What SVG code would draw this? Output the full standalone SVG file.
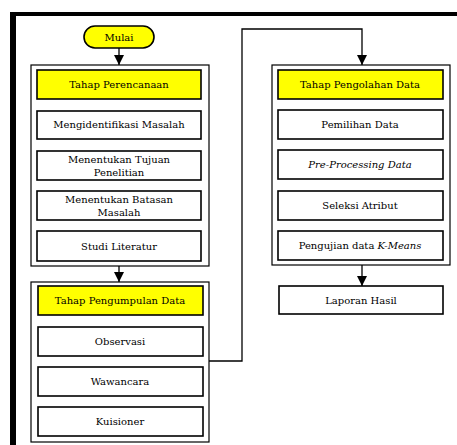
<svg xmlns="http://www.w3.org/2000/svg" width="457" height="445" viewBox="0 0 457 445">
<style>
.box{fill:#fff;stroke:#000;stroke-width:1.6}
.hdr{fill:#ffff00;stroke:#000;stroke-width:1.6}
.grp{fill:#fff;stroke:#000;stroke-width:1.2}
.t{font-family:"DejaVu Serif","Liberation Serif",serif;font-size:10px;text-anchor:middle;fill:#000}
.ln{fill:none;stroke:#000;stroke-width:1.3}
</style>
<defs>
<marker id="ah" markerWidth="8" markerHeight="8" refX="4" refY="6" orient="auto" markerUnits="userSpaceOnUse">
<path d="M0,0 L8,0 L4,7 Z" transform="rotate(-90 4 4) translate(0,0)" fill="#000"/>
</marker>
<marker id="a" viewBox="0 0 10 10" refX="10" refY="5" markerWidth="10" markerHeight="10" orient="auto" markerUnits="userSpaceOnUse">
<path d="M0,0 L10,5 L0,10 Z" fill="#000"/>
</marker>
</defs>
<rect width="457" height="445" fill="#fff"/>
<g id="frame">
<rect x="10" y="12" width="447" height="4" fill="#000"/>
<rect x="10" y="12" width="6" height="433" fill="#000"/>
</g>
<g id="connectors">
<line class="ln" x1="119" y1="48" x2="119" y2="65" marker-end="url(#a)"/>
<line class="ln" x1="119" y1="266" x2="119" y2="282" marker-end="url(#a)"/>
<polyline class="ln" points="209,361 242,361 242,29 362,29 362,65" marker-end="url(#a)"/>
<line class="ln" x1="362" y1="265" x2="362" y2="286" marker-end="url(#a)"/>
</g>
<g id="mulai">
<rect class="hdr" x="84" y="26" width="70" height="22" rx="11"/>
<text class="t" x="119" y="41">Mulai</text>
</g>
<g id="perencanaan">
<rect class="grp" x="31" y="65" width="178" height="201"/>
<rect class="hdr" x="37" y="70" width="164" height="29"/>
<text class="t" x="119" y="88">Tahap Perencanaan</text>
<rect class="box" x="37" y="111" width="164" height="28"/>
<text class="t" x="119" y="128">Mengidentifikasi Masalah</text>
<rect class="box" x="37" y="151" width="164" height="29"/>
<text class="t" x="119" y="163">Menentukan Tujuan</text>
<text class="t" x="119" y="176">Penelitian</text>
<rect class="box" x="37" y="191" width="164" height="29"/>
<text class="t" x="119" y="203">Menentukan Batasan</text>
<text class="t" x="119" y="216">Masalah</text>
<rect class="box" x="37" y="231" width="164" height="30"/>
<text class="t" x="119" y="250">Studi Literatur</text>
</g>
<g id="pengumpulan">
<rect class="grp" x="31" y="282" width="178" height="160"/>
<rect class="hdr" x="38" y="286" width="165" height="29"/>
<text class="t" x="120" y="304">Tahap Pengumpulan Data</text>
<rect class="box" x="38" y="327" width="165" height="29"/>
<text class="t" x="120" y="345">Observasi</text>
<rect class="box" x="38" y="367" width="165" height="29"/>
<text class="t" x="120" y="385">Wawancara</text>
<rect class="box" x="38" y="407" width="165" height="29"/>
<text class="t" x="120" y="425">Kuisioner</text>
</g>
<g id="pengolahan">
<rect class="grp" x="272" y="65" width="178" height="200"/>
<rect class="hdr" x="278" y="70" width="165" height="29"/>
<text class="t" x="360" y="88">Tahap Pengolahan Data</text>
<rect class="box" x="278" y="110" width="165" height="29"/>
<text class="t" x="360" y="128">Pemilihan Data</text>
<rect class="box" x="278" y="150" width="165" height="29"/>
<text class="t" x="360" y="168" font-style="italic">Pre-Processing Data</text>
<rect class="box" x="278" y="191" width="165" height="29"/>
<text class="t" x="360" y="209">Seleksi Atribut</text>
<rect class="box" x="278" y="231" width="165" height="29"/>
<text class="t" x="360" y="249">Pengujian data <tspan font-style="italic">K-Means</tspan></text>
</g>
<g id="laporan">
<rect class="box" x="279" y="286" width="164" height="28"/>
<text class="t" x="361" y="304">Laporan Hasil</text>
</g>
</svg>
